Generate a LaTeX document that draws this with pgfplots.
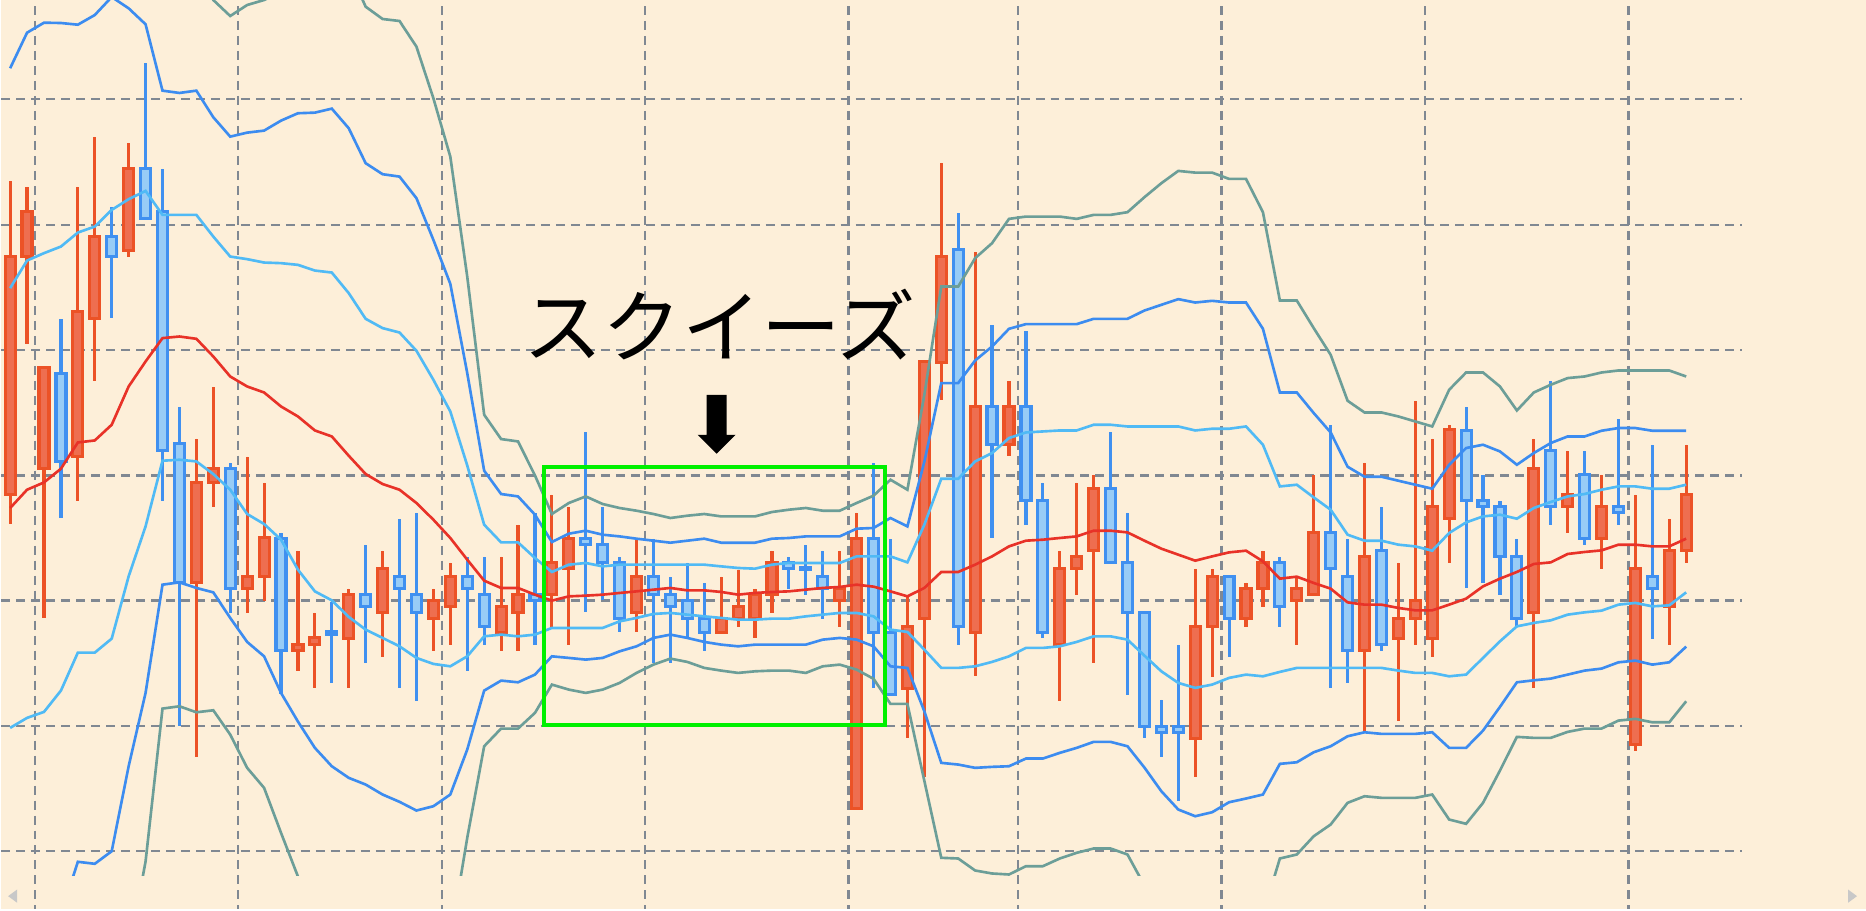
\documentclass[border=0pt]{standalone}
\usepackage{fontspec}
\newfontfamily\cjk{Noto Sans CJK JP}
\usepackage{pgfplots}
\usepackage{pgfplotstable}
\pgfplotsset{compat=1.18}
\usepgfplotslibrary{statistics}

\definecolor{bg}{RGB}{253,239,217}
\definecolor{gridc}{RGB}{128,136,146}
\definecolor{bearfill}{RGB}{238,110,80}
\definecolor{bearline}{RGB}{236,82,38}
\definecolor{bullfill}{RGB}{152,204,246}
\definecolor{bullline}{RGB}{64,144,240}
\definecolor{midc}{RGB}{232,50,40}
\definecolor{s1c}{RGB}{80,186,245}
\definecolor{s2c}{RGB}{60,140,240}
\definecolor{s3c}{RGB}{108,158,152}
\definecolor{boxc}{RGB}{0,240,0}
\definecolor{scrollc}{RGB}{200,200,200}

\tikzset{
 bearc/.style={draw=bearline, fill=bearfill, line width=0.9pt},
 bullc/.style={draw=bullline, fill=bullfill, line width=0.9pt},
 gridl/.style={gridc, line width=0.65pt, dash pattern=on 0.9mm off 0.6mm},
 band/.style={line width=0.75pt},
}

% candles: index, high, body top, body bottom, low (screen rows, top = 0), c: 1 = red, 0 = blue
\pgfplotstableread{
i hi top bot lo c
0 181 257 495 524 1
1 187 212 257 344 1
2 368 368 469 618 1
3 319 374 462 518 0
4 187 312 457 501 1
5 137 237 319 381 1
6 207 237 257 318 0
7 143 169 251 257 1
8 63 169 219 219 0
9 169 212 451 501 0
10 407 444 583 726 0
11 439 483 583 757 1
12 387 469 483 507 1
13 463 469 589 613 0
14 457 577 589 613 1
15 483 538 577 601 1
16 533 539 651 694 0
17 551 645 651 671 1
18 613 638 645 688 1
19 602 632 635 683 0
20 589 595 639 688 1
21 545 595 607 663 0
22 551 569 613 657 1
23 519 577 589 688 0
24 513 595 613 701 0
25 589 601 619 651 1
26 563 577 607 645 1
27 557 577 589 671 0
28 557 595 627 645 0
29 557 607 633 651 1
30 525 595 613 651 1
31 513 595 601 645 0
32 495 563 595 627 1
33 507 539 569 645 1
34 432 539 545 612 0
35 507 545 563 600 0
36 557 563 619 632 0
37 540 577 613 632 1
38 539 577 595 663 0
39 577 595 607 663 0
40 563 601 619 638 0
41 583 619 633 651 0
42 577 619 633 633 1
43 570 607 619 627 1
44 589 595 619 638 1
45 551 563 595 613 1
46 557 563 569 589 0
47 545 568 570 595 0
48 551 577 589 619 0
49 551 589 601 627 1
50 513 539 809 809 1
51 463 539 633 688 0
52 539 633 695 695 0
53 595 627 689 738 1
54 362 362 619 777 1
55 163 257 363 400 1
56 213 250 627 645 0
57 252 407 633 676 1
58 325 407 445 538 0
59 381 407 445 456 1
60 331 407 501 525 0
61 483 501 633 638 0
62 551 569 645 701 1
63 483 557 569 595 1
64 475 489 551 663 1
65 432 489 563 563 0
66 513 563 613 695 0
67 613 613 727 738 0
68 700 727 733 757 0
69 645 727 733 801 0
70 569 627 739 777 1
71 569 577 627 677 1
72 577 577 619 657 0
73 583 589 619 627 1
74 551 563 589 607 1
75 557 563 607 627 0
76 577 589 601 645 1
77 475 533 595 595 1
78 425 533 569 688 0
79 539 577 651 683 0
80 463 557 651 733 1
81 507 551 645 651 0
82 563 619 639 721 1
83 401 601 619 645 1
84 439 507 639 657 1
85 425 430 519 563 1
86 407 431 501 588 0
87 475 501 507 583 0
88 501 507 557 595 0
89 539 557 619 627 0
90 439 469 613 688 1
91 381 451 507 525 0
92 451 495 507 533 1
93 451 475 539 545 0
94 475 507 539 569 1
95 419 507 513 525 0
96 495 569 745 751 1
97 445 577 589 639 0
98 519 551 607 645 1
99 445 495 551 563 1
}\candles

% bands: +3s, +2s, +1s, middle, -1s, -2s, -3s (screen rows)
\pgfplotstableread{
i u3 u2 u1 m l1 l2 l3
0 -152 68.3 288.3 508.3 728.3 948 1168
1 -196 32.7 260.7 490 718.3 948 1176
2 -206 22.7 253.3 482.7 712.3 942 1171
3 -198 23 246.7 469 691 915 1135
4 -188 24.7 232.7 442.7 653 862.3 1073
5 -199 15 226.7 440.7 653 864.3 1080
6 -219 -3 210 425 639 851.7 1068
7 -179 8.3 199.3 386.7 576.7 766.7 953
8 -142 24.3 191 361.7 526.7 693.3 862
9 -31 90.7 215 338.3 461 585 709
10 -31 93 215 336.7 460 582.7 706.7
11 -31 90.7 215 339 461.7 588.3 712.7
12 0 117.3 236.7 356.7 474.3 592.7 710.7
13 16 136.7 256.7 376.7 490 618.3 735
14 5 132.7 259.3 386.7 514.3 642.3 768.3
15 0 130.7 262.7 392.7 524.3 656.7 788.3
16 -8 120.7 263.3 406.7 540 693.3 833.3
17 -41 113.3 265 416.7 570 722 877
18 -51 112.7 270.7 430.7 591.7 748.3 912
19 -55 108.7 272.7 436.7 600.7 766.7 929
20 -31 128.3 293.3 456 617.3 778.3 942
21 6.7 163.3 319 474.3 630 785 941
22 19 174.3 328.3 484.3 638.3 795 949
23 21 176.7 332.7 490 646.7 802.3 961
24 46.7 198.3 351 503.3 658.3 811 964
25 98.3 240 380 520 664.3 806.7 947
26 156.7 284 411.7 538.3 666.7 795 940
27 276.7 373.3 465.7 560 656.7 750 838.3
28 415 471 525 581 636.7 691 746.7
29 439.3 494.3 542.7 588.3 635 681 729
30 441.7 496.7 542.7 588.3 636.7 682.7 729
31 475.7 515 558.3 595 635 675 713.3
32 514.3 542.3 572.3 601 628.3 656.7 685
33 503.3 534 565 596.7 628.3 658.3 690
34 496.7 531 563.3 596 628.3 660 693.3
35 504.3 535 566.7 595 628.3 658.3 690
36 508.3 536.7 565 593.3 621.7 651.7 683.3
37 511 539 565 591.7 618.3 646.7 673.3
38 514.3 541 565 590 614.3 638.3 665
39 518.3 543 565 588.3 613.3 635 659
40 516 541 565 590.7 615 638.3 662.3
41 514.3 539 565 590.7 616.7 642.3 668.3
42 516.7 543 566.7 592.3 618.3 645 671
43 516.7 543 568.3 595 620 646.7 673.3
44 516.7 543 569 593.3 620 645 671.7
45 512.3 539 565 592.3 619 645 671
46 510 538.3 563.3 591.7 619 645 671
47 508.3 536.7 563.3 590 616.7 645 673.3
48 511 536.7 563.3 588.3 615 640 666.7
49 511 536.7 563.3 587.3 613.3 638.3 665
50 503.3 529 556.7 585 613.3 640 670
51 496 528.3 556.7 587 616.7 646.7 679.2
52 480 518.3 556.7 591.7 630 666.7 704.3
53 490 526.7 562.7 596.7 632.3 668.3 704.3
54 395 462 525 588.3 650 711.7 781.3
55 286.7 383.3 479 572.3 668.3 763.3 858.3
56 286.7 383.3 479 572.3 668.3 765 859
57 258.3 360.7 461.7 565 666.7 768.3 871
58 243.3 346.7 453.3 556.7 662.3 767.3 874
59 219 329 438.3 546.7 656.7 766.7 875
60 216.7 324.3 432.7 541 648.3 759 866.7
61 216.7 324.3 431.7 540 648.3 759 866.7
62 216.7 324.3 430.7 538.3 646.7 753.3 859
63 219 324.3 430.7 536.7 642.3 748.3 853.3
64 215 319 425 531 636.7 742.3 849
65 215 319 425 531 636.7 742.3 849
66 212.3 319 426.7 532.7 640 746.7 855
67 197.3 310.7 426.7 541 656 768 886
68 183.3 305 426.7 549 671.7 791.7 917
69 171 299.3 426.7 555 683.3 810 940
70 172.7 302.7 430.7 561 688.3 816.7 947
71 172.7 301 429 556.7 685 812.7 941
72 179 302.7 429 552.7 678.3 802.7 927
73 179 302.7 426.7 551 675 799 924
74 212.3 329 445 561.7 676.7 795 915
75 300.7 392.7 486.7 579 672.3 764.3 859
76 300.7 392.7 485 577 668.3 762.7 855
77 328.3 413.3 497.7 583.3 668.3 752.7 836.7
78 355 432.7 510 589 668.3 746.7 825
79 401 467 535 602.7 668.3 736.7 803.3
80 412.7 477 541 605 668.3 732.7 796.7
81 412.7 477 541 605 668.3 734.3 798.3
82 416.7 481 545 608.3 671 734.3 798.3
83 421.7 485 546.7 610.7 673.3 734.3 798.3
84 426.7 489 551 610.7 673.3 732.7 795
85 390 465 533.3 605 676.7 748.3 820
86 372.7 448.3 522.7 599 675 748.3 824.3
87 372.7 445 516.7 586.7 658.3 731 803.3
88 386.7 451.7 515 579 641.7 707.3 771
89 410.7 465 519 572.3 626.7 682.7 737.3
90 392.7 453.3 508.3 564.3 623.3 680.7 738.3
91 385 443.3 502.3 562.7 620.7 679 738.3
92 378.3 436.7 496.7 554.3 615 675 732.3
93 376.7 436.7 494.3 552.3 612.7 671 729
94 372.7 431 490 550.7 611 669 729
95 370.7 428.3 486.7 545 605 662.7 721
96 370.7 428.3 486.7 545 603.3 661 719.3
97 370.7 431 489 546.7 606.7 665 722.7
98 370.7 431 489 546.7 605.7 662.7 722.7
99 376.7 431 485 539 592.7 647 701.7
}\bands

\begin{document}
\begin{tikzpicture}
\fill[bg] (0,0) rectangle (186.6mm,91mm);
\begin{axis}[
  at={(0,91mm)}, anchor=north west,
  scale only axis, width=186.6mm, height=87.6mm,
  xmin=0, xmax=1866, ymin=0, ymax=876, y dir=reverse,
  hide axis,
  clip mode=individual,
  boxplot/draw direction=y,
]
% grid
\pgfplotsinvokeforeach{99.3,225,350.3,475.7,600.8,726.2,851.7}{
  \draw[gridl] (axis cs:0,#1) -- (axis cs:1742,#1);
}
\pgfplotsinvokeforeach{34,237.3,441,644.3,848,1017.3,1221,1424.7,1628.3}{
  \draw[gridl] (axis cs:#1,6) -- (axis cs:#1,910);
}
% candles
\pgfplotsforeachungrouped \r in {0,...,99}{%
 \pgfplotstablegetelem{\r}{i}\of\candles
 \pgfmathsetmacro\cX{9+16.94*\pgfplotsretval}%
 \pgfplotstablegetelem{\r}{hi}\of\candles \let\cA\pgfplotsretval
 \pgfplotstablegetelem{\r}{top}\of\candles \let\cB\pgfplotsretval
 \pgfplotstablegetelem{\r}{bot}\of\candles \let\cC\pgfplotsretval
 \pgfplotstablegetelem{\r}{lo}\of\candles \let\cD\pgfplotsretval
 \pgfplotstablegetelem{\r}{c}\of\candles
 \ifnum\pgfplotsretval=1 \def\cS{bearc}\else\def\cS{bullc}\fi
 \edef\tmp{\noexpand\addplot[\cS, boxplot prepared={draw direction=y, draw position=\cX, lower whisker=\cA, lower quartile=\cB, median=\cB, upper quartile=\cC, upper whisker=\cD, box extend=10, whisker extend=0}] coordinates {};}%
 \tmp
}
% bands
\addplot[band, s3c] table[x expr=9+16.94*\thisrow{i}, y=u3] {\bands};
\addplot[band, s2c] table[x expr=9+16.94*\thisrow{i}, y=u2] {\bands};
\addplot[band, s1c] table[x expr=9+16.94*\thisrow{i}, y=u1] {\bands};
\addplot[band, midc] table[x expr=9+16.94*\thisrow{i}, y=m] {\bands};
\addplot[band, s1c] table[x expr=9+16.94*\thisrow{i}, y=l1] {\bands};
\addplot[band, s2c] table[x expr=9+16.94*\thisrow{i}, y=l2] {\bands};
\addplot[band, s3c] table[x expr=9+16.94*\thisrow{i}, y=l3] {\bands};
% annotation
\draw[boxc, line width=1.2pt] (axis cs:543.5,467) rectangle (axis cs:884,725.7);
\fill[black] (axis cs:706,395) -- (axis cs:726,395) -- (axis cs:726,435) -- (axis cs:735,435)
  -- (axis cs:716,454) -- (axis cs:697,435) -- (axis cs:706,435) -- cycle;
\node[font=\cjk\fontsize{22.6pt}{26pt}\selectfont, inner sep=0pt] at (axis cs:719,325) {スクイーズ};
% scroll arrows
\fill[scrollc] (axis cs:7,896.7) -- (axis cs:16,890) -- (axis cs:16,903.3) -- cycle;
\fill[scrollc] (axis cs:1857,896.7) -- (axis cs:1848,890) -- (axis cs:1848,903.3) -- cycle;
\end{axis}
\end{tikzpicture}
\end{document}
